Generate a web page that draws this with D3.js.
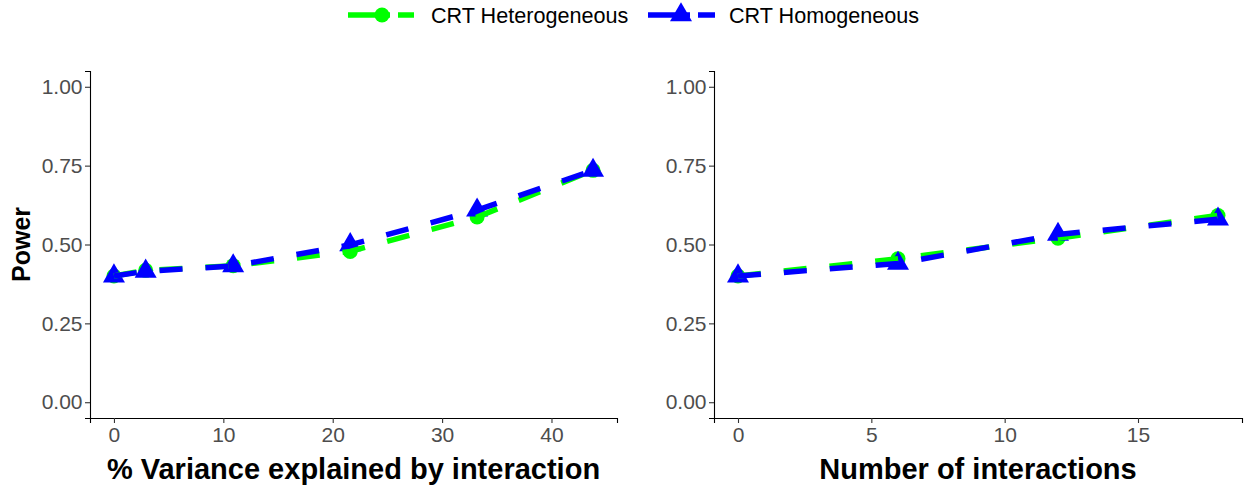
<!DOCTYPE html>
<html><head><meta charset="utf-8">
<script src="https://cdn.jsdelivr.net/npm/d3@7"></script>
<style>body{margin:0;background:#fff}svg{display:block}text{font-family:"Liberation Sans",Arial,sans-serif}</style>
</head><body>
<script>
// Data
const seriesNames = ["CRT Heterogeneous", "CRT Homogeneous"];
const seriesColors = ["#00FF00", "#0000FF"];
const varianceX = [0, 2.9, 10.9, 21.6, 33.2, 43.8];
const varianceHet = [0.40, 0.418, 0.433, 0.478, 0.587, 0.735];
const varianceHom = [0.40, 0.415, 0.432, 0.499, 0.609, 0.735];
const interactionsX = [0, 6, 12, 18];
const interactionsHet = [0.40, 0.455, 0.52, 0.592];
const interactionsHom = [0.40, 0.44, 0.532, 0.58];
const yTicks = [0, 0.25, 0.5, 0.75, 1];
const yTickLabels = ["0.00", "0.25", "0.50", "0.75", "1.00"];
const leftXTicks = [0, 10, 20, 30, 40];
const rightXTicks = [0, 5, 10, 15];

const W = 1245, H = 492;
const svg = d3.select("body").append("svg").attr("width", W).attr("height", H);

const plotTop = 71, plotBottom = 418;
const y = d3.scaleLinear().domain([-0.05, 1.05]).range([plotBottom, plotTop]);

function expand(ext){ const d = ext[1]-ext[0]; return [ext[0]-0.05*d, ext[1]+0.05*d]; }

const panels = [
  {x0: 90, x1: 617, xs: varianceX, het: varianceHet, hom: varianceHom, ticks: leftXTicks, title: "% Variance explained by interaction", ylab: true},
  {x0: 714, x1: 1242, xs: interactionsX, het: interactionsHet, hom: interactionsHom, ticks: rightXTicks, title: "Number of interactions", ylab: false}
];

panels.forEach(p => {
  const x = d3.scaleLinear().domain(expand(d3.extent(p.xs))).range([p.x0, p.x1]);
  const g = svg.append("g");
  const ya = g.append("g").attr("transform", `translate(${p.x0},0)`)
    .call(d3.axisLeft(y).tickValues(yTicks).tickFormat((d,i)=>yTickLabels[i]).tickSizeOuter(0).tickSize(5).tickPadding(2.5));
  const xa = g.append("g").attr("transform", `translate(0,${plotBottom})`)
    .call(d3.axisBottom(x).tickValues(p.ticks).tickFormat(d3.format("d")).tickSizeOuter(0).tickSize(5).tickPadding(4));
  [ya, xa].forEach(a => {
    a.select(".domain").attr("stroke", "#000").attr("stroke-width", 1.1);
    a.selectAll(".tick line").attr("stroke", "#333").attr("stroke-width", 1.1);
    a.selectAll(".tick text").attr("fill", "#4D4D4D").style("font-size", "21px");
  });
  const series = [p.het, p.hom];
  series.forEach((vals, si) => {
    const sym = si === 0 ? d3.symbol().type(d3.symbolCircle).size(Math.PI*7.5*7.5)
                         : d3.symbol().type(d3.symbolTriangle).size(210);
    g.selectAll(null).data(vals).enter().append("path")
      .attr("d", sym)
      .attr("transform", (d,i)=>`translate(${x(p.xs[i])},${y(d)})`)
      .attr("fill", seriesColors[si]);
  });
  series.forEach((vals, si) => {
    const line = d3.line().x((d,i)=>x(p.xs[i])).y(d=>y(d));
    g.append("path").datum(vals).attr("d", line)
      .attr("fill", "none").attr("stroke", seriesColors[si]).attr("stroke-width", 5.5)
      .attr("stroke-dasharray", "23,23").attr("stroke-linecap", "butt");
  });
  g.append("text").attr("x", (p.x0+p.x1)/2).attr("y", 479).attr("text-anchor", "middle")
    .style("font-size", "29px").style("font-weight", "bold").attr("fill", "#000").text(p.title);
  if (p.ylab) {
    g.append("text").attr("transform", `translate(30,${(plotTop+plotBottom)/2}) rotate(-90)`)
      .attr("text-anchor", "middle").style("font-size", "25px").style("font-weight", "bold")
      .attr("fill", "#000").text("Power");
  }
});

const ly = 15;
const legendItems = [
  {x0: 348, x1: 414, cx: 382, tx: 431},
  {x0: 648, x1: 715, cx: 681, tx: 729}
];
legendItems.forEach((it, si) => {
  const lg = svg.append("g");
  lg.append("line").attr("x1", it.x0).attr("x2", it.x1).attr("y1", ly).attr("y2", ly)
    .attr("stroke", seriesColors[si]).attr("stroke-width", 5.5).attr("stroke-dasharray", "42,8,30");
  const sym = si === 0 ? d3.symbol().type(d3.symbolCircle).size(Math.PI*7.5*7.5)
                       : d3.symbol().type(d3.symbolTriangle).size(210);
  lg.append("path").attr("d", sym).attr("transform", `translate(${it.cx},${ly})`).attr("fill", seriesColors[si]);
  lg.append("text").attr("x", it.tx).attr("y", ly).attr("dy", "0.35em")
    .style("font-size", "21.6px").attr("fill", "#000").text(seriesNames[si]);
});
</script>
</body></html>
